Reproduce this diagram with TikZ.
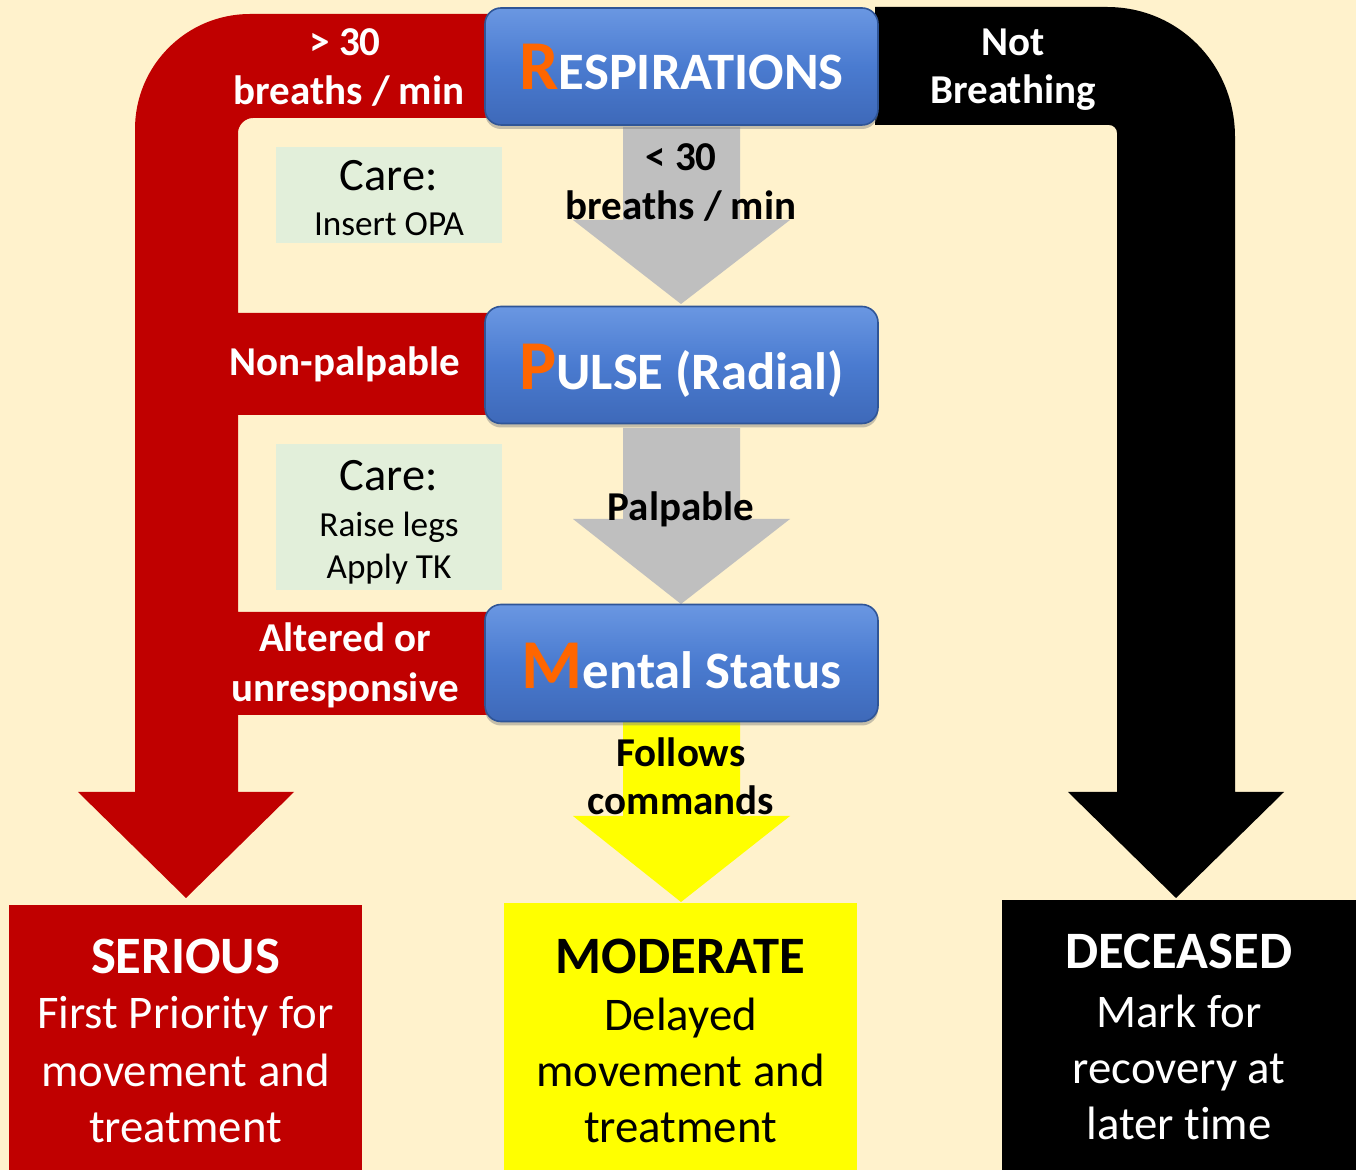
\documentclass[tikz,border=0pt]{standalone}
\usepackage{fontspec}
\setmainfont{Carlito}[Ligatures={NoCommon}]
\usetikzlibrary{shadows}
\definecolor{bg}{HTML}{FFF2CC}
\definecolor{sred}{HTML}{C00000}
\definecolor{sgray}{HTML}{BFBFBF}
\definecolor{syel}{HTML}{FFFF00}
\definecolor{carebg}{HTML}{E2EFDA}
\definecolor{bluemid}{HTML}{4A7BD0}
\definecolor{bluetop}{HTML}{6A97E2}
\definecolor{bluebot}{HTML}{3E69B9}
\definecolor{blueedge}{HTML}{2F5597}
\definecolor{orng}{HTML}{FF6600}
\begin{document}
\begin{tikzpicture}[x=0.5pt,y=-0.5pt,
  stepbox/.style={rounded corners=8pt, draw=blueedge, line width=0.8pt,
    top color=bluetop, bottom color=bluebot, middle color=bluemid,
    minimum width=196.5pt, minimum height=58.5pt, inner sep=0pt,
    drop shadow={shadow xshift=0pt, shadow yshift=-2pt, opacity=0.45}},
  steptext/.style={anchor=base, inner sep=0pt, text=white, font=\bfseries\fontsize{26.3}{30}\selectfont},
  lbl/.style={anchor=base, inner sep=0pt, font=\bfseries\fontsize{20.5}{24}\selectfont},
  wlbl/.style={lbl, text=white},
  carebox/.style={fill=carebg, minimum width=113pt, inner sep=0pt},
  caretitle/.style={anchor=base, inner sep=0pt, font=\fontsize{23.2}{27}\selectfont},
  careline/.style={anchor=base, inner sep=0pt, font=\fontsize{17.6}{20}\selectfont},
  outbox/.style={minimum width=176.5pt, inner sep=0pt},
  outtitle/.style={anchor=base, inner sep=0pt, font=\bfseries\fontsize{26.3}{30}\selectfont},
  outline/.style={anchor=base, inner sep=0pt, font=\fontsize{23.4}{28}\selectfont},
]
\newcommand{\initial}[1]{\textcolor{orng}{\fontsize{35}{35}\selectfont #1}}
% background
\fill[bg] (0,0) rectangle (1356,1170);
\useasboundingbox (0,0) rectangle (1356,1170);

% red path
\fill[sred] (186,898) -- (78,792) -- (135,792) -- (135,129)
  .. controls (135,65.5) and (186.5,14) .. (250,14)
  -- (490,14) -- (490,118) -- (253,118)
  .. controls (245,118) and (238,125) .. (238,133)
  -- (238,313) -- (490,313) -- (490,415) -- (238,415)
  -- (238,612) -- (490,612) -- (490,715) -- (238,715)
  -- (238,792) -- (294,792) -- cycle;

% black path
\fill[black] (1176,898) -- (1284,792) -- (1235,792) -- (1235,137)
  .. controls (1235,65) and (1179,7) .. (1107,7)
  -- (875,7) -- (875,125) -- (1109,125)
  .. controls (1113.5,125) and (1117,128.5) .. (1117,133)
  -- (1117,792) -- (1068,792) -- cycle;

% gray arrows
\fill[sgray] (623,127) -- (740,127) -- (740,220) -- (790,220) -- (681,304) -- (573,220) -- (623,220) -- cycle;
\fill[sgray] (623,428) -- (740,428) -- (740,519) -- (790,519) -- (681,604) -- (573,519) -- (623,519) -- cycle;
% yellow arrow
\fill[syel] (623,722) -- (740,722) -- (740,816) -- (790,816) -- (681,902) -- (573,816) -- (623,816) -- cycle;

% blue step boxes
\node[stepbox] (resp) at (681.5,66.5) {};
\node[stepbox] (pulse) at (681.5,365) {};
\node[stepbox] (mental) at (681.5,663) {};
\node[steptext] (resptxt) at (681.5,90) {\initial{R}ESPIRATIONS};
\node[steptext] (pulsetxt) at (681.5,390) {\initial{P}ULSE (Radial)};
\node[steptext] (mentaltxt) at (681.5,689) {\initial{M}ental Status};

% care boxes
\node[carebox, minimum height=48pt] (care1) at (389,195) {};
\node[caretitle] (care1t) at (389,191) {Care:};
\node[careline] (care1a) at (389,236) {Insert OPA};
\node[carebox, minimum height=73pt] (care2) at (389,517) {};
\node[caretitle] (care2t) at (389,491) {Care:};
\node[careline] (care2a) at (389,537) {Raise legs};
\node[careline] (care2b) at (389,579) {Apply TK};

% branch labels
\node[wlbl] (l1a) at (345,56) {> 30};
\node[wlbl] (l1b) at (349,105) {breaths / min};
\node[wlbl] (l2a) at (1013,56) {Not};
\node[wlbl] (l2b) at (1013,104) {Breathing};
\node[lbl] (l3a) at (681,171) {< 30};
\node[lbl] (l3b) at (681,220) {breaths / min};
\node[wlbl] (l4) at (345,376) {Non-palpable};
\node[lbl] (l5) at (681,521) {Palpable};
\node[wlbl] (l6a) at (345,652) {Altered or};
\node[wlbl] (l6b) at (345,702) {unresponsive};
\node[lbl] (l7a) at (681,767) {Follows};
\node[lbl] (l7b) at (681,815) {commands};

% outcome boxes
\node[outbox, fill=sred, minimum height=132.5pt] (serious) at (185.5,1037.5) {};
\node[outtitle, text=white] (s0) at (185.5,973) {SERIOUS};
\node[outline, text=white] (s1) at (185.5,1029) {First Priority for};
\node[outline, text=white] (s2) at (185.5,1086) {movement and};
\node[outline, text=white] (s3) at (185.5,1142) {treatment};

\node[outbox, fill=syel, minimum height=133.5pt] (moderate) at (680.5,1036.5) {};
\node[outtitle] (m0) at (680.5,973) {MODERATE};
\node[outline] (m1) at (680.5,1030) {Delayed};
\node[outline] (m2) at (680.5,1086) {movement and};
\node[outline] (m3) at (680.5,1142) {treatment};

\node[outbox, fill=black, minimum width=177pt, minimum height=135pt] (deceased) at (1179,1035) {};
\node[outtitle, text=white] (d0) at (1179,969) {DECEASED};
\node[outline, text=white] (d1) at (1179,1027) {Mark for};
\node[outline, text=white] (d2) at (1179,1083) {recovery at};
\node[outline, text=white] (d3) at (1179,1139) {later time};
\end{tikzpicture}
\end{document}
